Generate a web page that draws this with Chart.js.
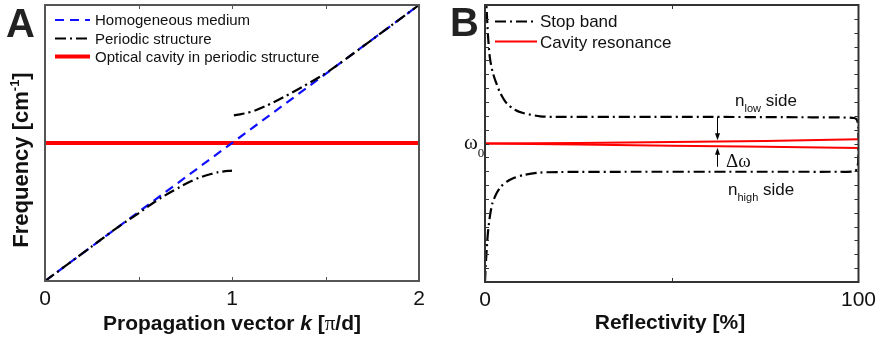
<!DOCTYPE html>
<html>
<head>
<meta charset="utf-8">
<script src="https://cdn.jsdelivr.net/npm/chart.js@4.4.1/dist/chart.umd.min.js"></script>
<style>
html, body { margin: 0; padding: 0; background: #fff; }
#wrap { position: relative; width: 882px; height: 340px; overflow: hidden; }
canvas { position: absolute; top: 0; }
#chartA { left: 0; }
#chartB { left: 440px; }
</style>
</head>
<body>
<div id="wrap">
  <canvas id="chartA" width="440" height="340"></canvas>
  <canvas id="chartB" width="442" height="340"></canvas>
</div>
<script>
// ---- panel A: dispersion, k in units of pi/d ----
const kHomog = [0, 2];
const freqHomog = [0, 2];
const kLower = [0, 0.2, 0.4, 0.5, 0.6, 0.7, 0.8, 0.9, 0.95, 1.0];
const freqLower = [0, 0.2, 0.4, 0.49, 0.585, 0.665, 0.735, 0.78, 0.793, 0.8];
const kUpper = [1.01, 1.1, 1.2, 1.3, 1.4, 1.5, 1.6, 1.8, 2.0];
const freqUpper = [1.2, 1.225, 1.28, 1.35, 1.425, 1.505, 1.6, 1.8, 2.0];
const kCavity = [0, 2];
const freqCavity = [1.0, 1.0];

// ---- panel B: stop band edges vs reflectivity ----
const reflUpper = [0.15, 0.45, 0.8, 1.3, 2, 2.7, 4, 5.8, 8, 10.2, 14.8, 20, 40, 60, 80, 95, 98.8, 99.6, 99.95, 100];
const bandUpper = [10.5, 9.8, 8.9, 8.1, 7.6, 7.3, 6.85, 6.45, 6.22, 6.1, 5.98, 5.96, 5.96, 5.96, 5.95, 5.94, 5.92, 5.85, 5.6, 5.2];
const reflLower = [0, 0.2, 0.45, 0.8, 1.3, 2, 3.1, 4.3, 5.8, 8, 10.2, 14.7, 20, 40, 60, 80, 95, 98.8, 99.6, 99.95, 100];
const bandLower = [0, 0.6, 1.16, 1.8, 2.36, 2.85, 3.2, 3.45, 3.62, 3.77, 3.86, 3.95, 3.97, 3.98, 3.98, 3.98, 3.98, 3.99, 4.08, 4.4, 4.9];
const reflCavity = [0, 25, 50, 75, 100];
const cavityUp = [5.0, 5.02, 5.05, 5.09, 5.15];
const cavityDown = [5.0, 4.96, 4.92, 4.88, 4.84];
const arrowR = 62;
const gapTop = [5.97, 5.12];
const gapBottom = [4.16, 4.85];

const sans = '"Liberation Sans", Arial, sans-serif';
const serif = '"Liberation Serif", "Times New Roman", serif';
const ink = '#111';
const DASH_DOT = [11, 4, 2, 4];

const pts = (xs, ys) => xs.map((x, i) => ({ x, y: ys[i] }));

// draw a row of text pieces with differing fonts / offsets
function drawRuns(ctx, x, y, runs, align) {
    let total = 0;
    runs.forEach(r => { ctx.font = r.font; total += ctx.measureText(r.text).width; });
    let cx = align === 'center' ? x - total / 2 : x;
    runs.forEach(r => {
        ctx.font = r.font;
        ctx.fillText(r.text, cx, y + (r.dy || 0));
        cx += ctx.measureText(r.text).width;
    });
}

function drawFrame(chart, color, xTicks, yTicks, len) {
    const { ctx, chartArea: a, scales: { x, y } } = chart;
    ctx.save();
    ctx.setLineDash([]);
    ctx.strokeStyle = color;
    ctx.lineWidth = 2;
    ctx.strokeRect(a.left, a.top, a.right - a.left, a.bottom - a.top);
    ctx.lineWidth = 1;
    ctx.beginPath();
    xTicks.forEach(v => {
        const px = Math.round(x.getPixelForValue(v)) + 0.5;
        ctx.moveTo(px, a.bottom); ctx.lineTo(px, a.bottom - len);
        ctx.moveTo(px, a.top); ctx.lineTo(px, a.top + len);
    });
    yTicks.forEach(v => {
        const py = Math.round(y.getPixelForValue(v)) + 0.5;
        ctx.moveTo(a.left, py); ctx.lineTo(a.left + len, py);
        ctx.moveTo(a.right, py); ctx.lineTo(a.right - len, py);
    });
    ctx.stroke();
    ctx.restore();
}

function drawLegend(ctx, rows, x0, len, textX, font) {
    rows.forEach(r => {
        const ds = r.ds;
        ctx.save();
        ctx.strokeStyle = ds.borderColor;
        ctx.lineWidth = ds.borderWidth;
        ctx.setLineDash(ds.borderDash || []);
        ctx.beginPath();
        ctx.moveTo(x0, r.y);
        ctx.lineTo(x0 + len, r.y);
        ctx.stroke();
        ctx.restore();
        ctx.fillStyle = ink;
        ctx.font = font;
        ctx.fillText(ds.label, textX, r.base);
    });
}

function arrow(ctx, x, y0, y1) {
    const dir = Math.sign(y1 - y0);
    ctx.beginPath();
    ctx.moveTo(x, y0);
    ctx.lineTo(x, y1 - dir * 5);
    ctx.stroke();
    ctx.beginPath();
    ctx.moveTo(x, y1);
    ctx.lineTo(x - 2.5, y1 - dir * 7);
    ctx.lineTo(x + 2.5, y1 - dir * 7);
    ctx.closePath();
    ctx.fill();
}

function baseOptions(xMin, xMax, xStep, yMin, yMax, xHeight, rightPad) {
    return {
        responsive: false,
        animation: false,
        devicePixelRatio: 1,
        layout: { padding: { top: 5, right: rightPad, left: 0, bottom: 0 } },
        plugins: { legend: { display: false }, tooltip: { enabled: false } },
        elements: { point: { radius: 0 } },
        scales: {
            x: {
                type: 'linear', min: xMin, max: xMax,
                ticks: { stepSize: xStep, color: ink, padding: 6, font: { family: sans, size: 21 } },
                grid: { display: false, drawTicks: false },
                border: { display: false },
                afterFit: s => { s.height = xHeight; }
            },
            y: {
                type: 'linear', min: yMin, max: yMax,
                ticks: { display: false },
                grid: { display: false, drawTicks: false },
                border: { display: false },
                afterFit: s => { s.width = 45; }
            }
        }
    };
}

// ---------------- panel A ----------------
const dsA = [
    { label: 'Periodic structure', data: pts(kLower, freqLower), borderColor: '#000', borderWidth: 2.2, borderDash: DASH_DOT, tension: 0.4 },
    { label: 'Periodic structure', data: pts(kUpper, freqUpper), borderColor: '#000', borderWidth: 2.2, borderDash: DASH_DOT, tension: 0.4 },
    { label: 'Homogeneous medium', data: pts(kHomog, freqHomog), borderColor: '#1010ff', borderWidth: 2.2, borderDash: [9, 6] },
    { label: 'Optical cavity in periodic structure', data: pts(kCavity, freqCavity), borderColor: '#ff0000', borderWidth: 4 }
];

new Chart(document.getElementById('chartA'), {
    type: 'line',
    data: { datasets: dsA },
    options: baseOptions(0, 2, 1, 0, 2, 59, 21),
    plugins: [{
        id: 'decorA',
        afterDatasetsDraw(chart) {
            const ctx = chart.ctx;
            drawFrame(chart, '#555', [0.5, 1, 1.5], [], 4);
            drawLegend(ctx, [
                { ds: dsA[2], y: 20, base: 25 },
                { ds: dsA[0], y: 38.5, base: 43.5 },
                { ds: dsA[3], y: 56.5, base: 61.5 }
            ], 55, 35, 95, '15px ' + sans);
        },
        afterDraw(chart) {
            const ctx = chart.ctx;
            ctx.save();
            ctx.fillStyle = '#222';
            ctx.font = 'bold 40px ' + sans;
            ctx.fillText('A', 6, 37);
            ctx.fillStyle = ink;
            drawRuns(ctx, 232, 330, [
                { text: 'Propagation vector ', font: 'bold 21px ' + sans },
                { text: 'k', font: 'italic bold 21px ' + sans },
                { text: ' [', font: 'bold 21px ' + sans },
                { text: 'π', font: '21px ' + serif },
                { text: '/d]', font: 'bold 21px ' + sans }
            ], 'center');
            ctx.translate(28, 160);
            ctx.rotate(-Math.PI / 2);
            drawRuns(ctx, 0, 0, [
                { text: 'Frequency [cm', font: 'bold 22px ' + sans },
                { text: '-1', font: 'bold 13px ' + sans, dy: -9 },
                { text: ']', font: 'bold 22px ' + sans }
            ], 'center');
            ctx.restore();
        }
    }]
});

// ---------------- panel B ----------------
const dsB = [
    { label: 'Stop band', data: pts(reflUpper, bandUpper), borderColor: '#000', borderWidth: 2.2, borderDash: DASH_DOT, tension: 0.25 },
    { label: 'Stop band', data: pts(reflLower, bandLower), borderColor: '#000', borderWidth: 2.2, borderDash: DASH_DOT, tension: 0.25 },
    { label: 'Cavity resonance', data: pts(reflCavity, cavityUp), borderColor: '#ff0000', borderWidth: 2 },
    { label: 'Cavity resonance', data: pts(reflCavity, cavityDown), borderColor: '#ff0000', borderWidth: 2 }
];

const minorB = [];
for (let v = 0.5; v < 10; v += 0.5) minorB.push(v);

new Chart(document.getElementById('chartB'), {
    type: 'line',
    data: { datasets: dsB },
    options: baseOptions(0, 100, 100, 0, 10, 58, 23),
    plugins: [{
        id: 'decorB',
        afterDatasetsDraw(chart) {
            const ctx = chart.ctx;
            const { x, y } = chart.scales;
            drawFrame(chart, '#333', [50], minorB, 4);
            drawLegend(ctx, [
                { ds: dsB[0], y: 21.5, base: 27 },
                { ds: dsB[2], y: 41.5, base: 48 }
            ], 55, 42, 100, '17px ' + sans);
            ctx.save();
            ctx.strokeStyle = '#000';
            ctx.fillStyle = '#000';
            ctx.lineWidth = 1;
            const ax = Math.round(x.getPixelForValue(arrowR)) + 0.5;
            arrow(ctx, ax, y.getPixelForValue(gapTop[0]), y.getPixelForValue(gapTop[1]));
            arrow(ctx, ax, y.getPixelForValue(gapBottom[0]), y.getPixelForValue(gapBottom[1]));
            ctx.restore();
        },
        afterDraw(chart) {
            const ctx = chart.ctx;
            ctx.save();
            ctx.fillStyle = '#222';
            ctx.font = 'bold 40px ' + sans;
            ctx.fillText('B', 10, 36);
            ctx.fillStyle = ink;
            drawRuns(ctx, 230, 329, [{ text: 'Reflectivity [%]', font: 'bold 21px ' + sans }], 'center');
            drawRuns(ctx, 24, 149, [
                { text: 'ω', font: '21px ' + serif },
                { text: '0', font: '13px ' + serif, dy: 8 }
            ]);
            drawRuns(ctx, 295, 106, [
                { text: 'n', font: '17px ' + sans },
                { text: 'low', font: '11px ' + sans, dy: 6 },
                { text: ' side', font: '17px ' + sans }
            ]);
            drawRuns(ctx, 288, 195, [
                { text: 'n', font: '17px ' + sans },
                { text: 'high', font: '11px ' + sans, dy: 6 },
                { text: ' side', font: '17px ' + sans }
            ]);
            drawRuns(ctx, 286, 167, [{ text: 'Δω', font: '19px ' + serif }]);
            ctx.restore();
        }
    }]
});
</script>
</body>
</html>
